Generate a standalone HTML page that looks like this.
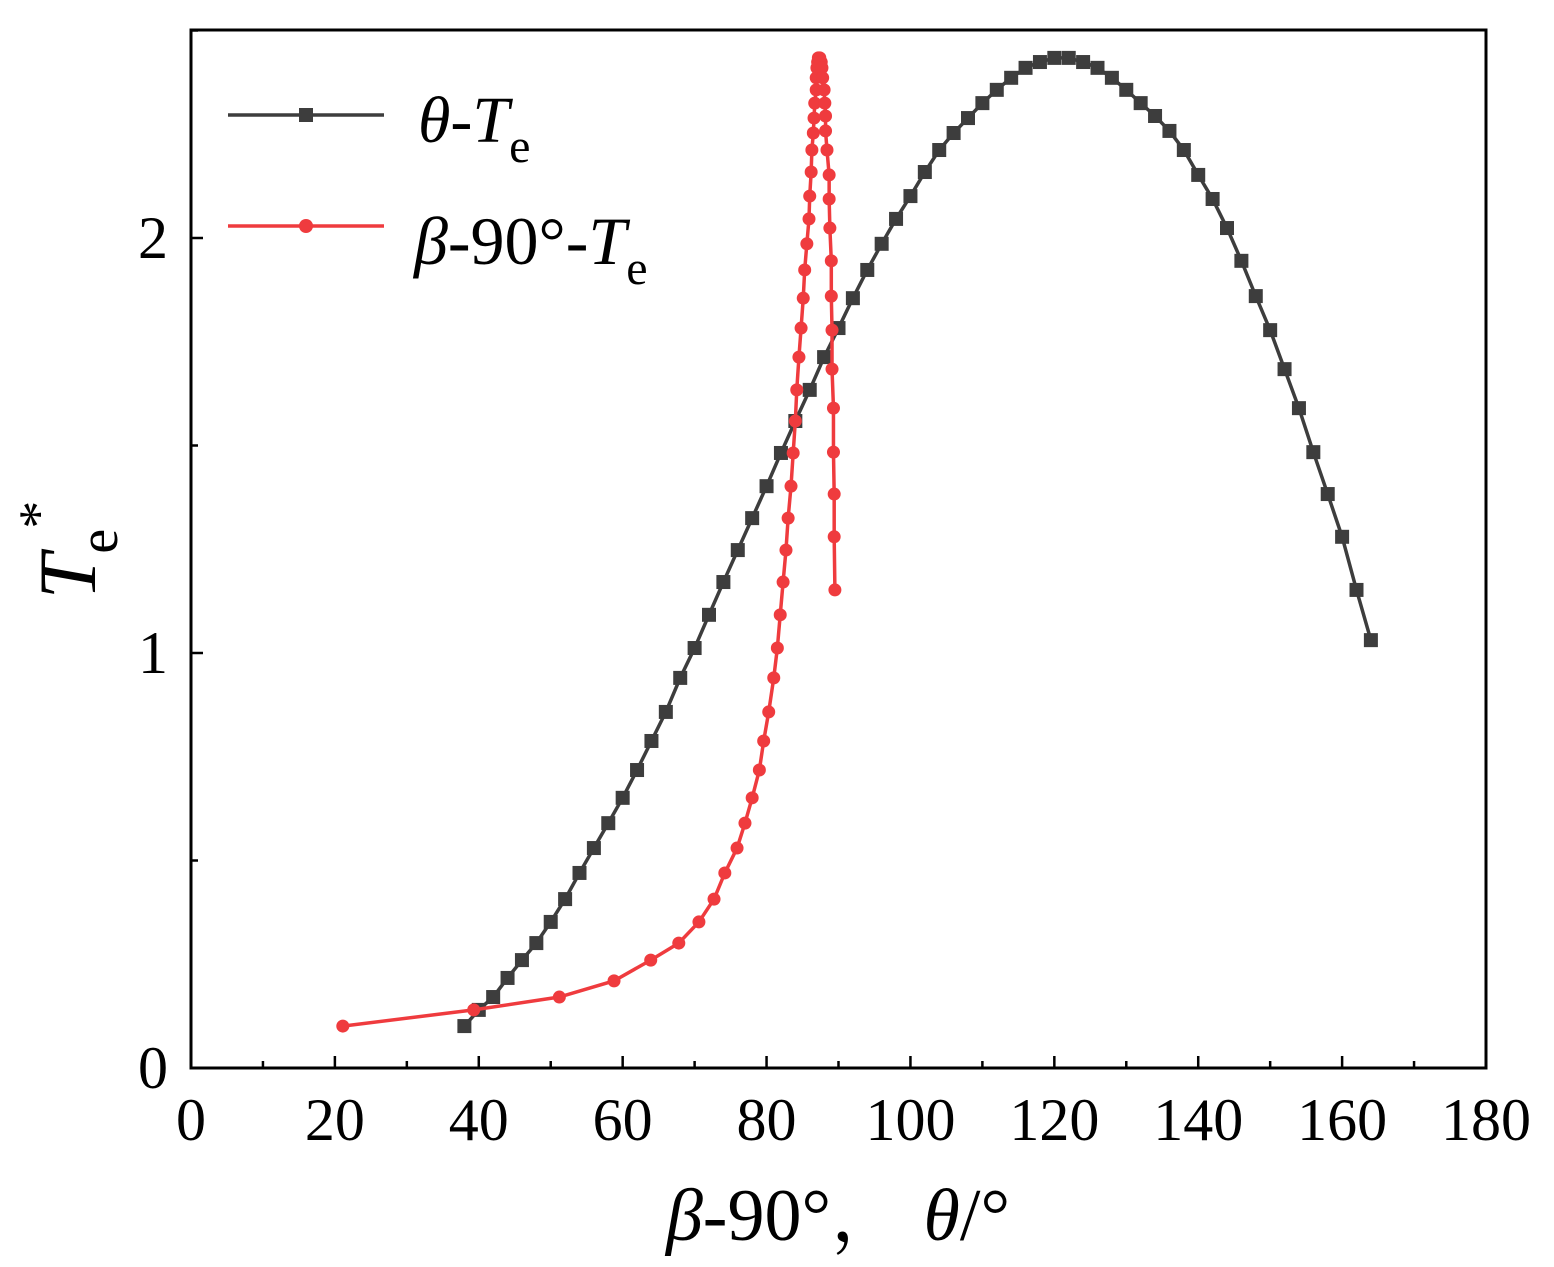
<!DOCTYPE html>
<html><head><meta charset="utf-8"><style>
html,body{margin:0;padding:0;background:#fff}
svg{display:block;font-family:"Liberation Serif",serif}
</style></head><body>
<svg id="chart" width="1554" height="1267" viewBox="0 0 1554 1267" xmlns="http://www.w3.org/2000/svg">
<rect x="191" y="30" width="1295" height="1038" fill="none" stroke="#000" stroke-width="3"/>
<g id="ticks"></g>
<g id="series"></g>
<g>
<line x1="228" y1="115" x2="384" y2="115" stroke="#3d3d3d" stroke-width="3.5"/>
<rect x="299" y="108" width="14" height="14" fill="#3d3d3d"/>
<text x="418" y="142" font-size="66" font-style="italic">θ-T<tspan font-size="48" font-style="normal" dy="20">e</tspan></text>
<line x1="228" y1="226" x2="384" y2="226" stroke="#ef3b3e" stroke-width="3.5"/>
<circle cx="306" cy="226" r="7" fill="#ef3b3e"/>
<text x="414" y="264" font-size="68"><tspan font-style="italic">β</tspan>-90°-<tspan font-style="italic">T</tspan><tspan font-size="48" dy="20">e</tspan></text>
</g>
<text x="838" y="1240" font-size="74" text-anchor="middle" xml:space="preserve"><tspan font-style="italic">β</tspan>-90°<tspan font-family="'Noto Serif CJK SC','Noto Sans CJK SC',serif">，</tspan> <tspan font-style="italic">θ</tspan>/°</text>
<text transform="translate(95,550) rotate(-90)" font-size="82" text-anchor="middle"><tspan font-style="italic">T</tspan><tspan font-size="56" dy="22">e</tspan><tspan font-size="56" dy="-60">*</tspan></text>
</svg>
<script>
const thetaX = [38,40,42,44,46,48,50,52,54,56,58,60,62,64,66,68,70,72,74,76,78,80,82,84,86,88,90,92,94,96,98,100,102,104,106,108,110,112,114,116,118,120,122,124,126,128,130,132,134,136,138,140,142,144,146,148,150,152,154,156,158,160,162,164];
const thetaT = [0.101,0.140,0.171,0.217,0.260,0.301,0.352,0.407,0.470,0.530,0.590,0.651,0.718,0.788,0.858,0.940,1.012,1.092,1.171,1.248,1.325,1.402,1.482,1.559,1.634,1.713,1.783,1.855,1.923,1.986,2.046,2.101,2.159,2.212,2.253,2.289,2.325,2.357,2.386,2.410,2.424,2.434,2.434,2.424,2.410,2.386,2.357,2.325,2.294,2.258,2.212,2.152,2.094,2.024,1.945,1.860,1.778,1.684,1.590,1.484,1.383,1.280,1.152,1.031];
const betaX = [21.1,39.3,51.2,58.8,63.9,67.8,70.6,72.7,74.2,75.9,77.0,78.0,79.0,79.6,80.3,81.0,81.5,81.9,82.3,82.7,83.0,83.4,83.7,84.0,84.2,84.5,84.8,85.1,85.3,85.6,85.9,86.0,86.2,86.3,86.5,86.6,86.7,86.9,86.9,87.0,87.1,87.2,87.4,87.6,87.7,87.8,88.0,88.1,88.2,88.2,88.4,88.7,88.7,88.8,89.0,89.0,89.1,89.1,89.3,89.3,89.4,89.4,89.5];
const betaT = [0.101,0.140,0.171,0.210,0.260,0.301,0.352,0.407,0.470,0.530,0.590,0.651,0.718,0.788,0.858,0.940,1.012,1.092,1.171,1.248,1.325,1.402,1.482,1.559,1.634,1.713,1.783,1.855,1.923,1.986,2.046,2.101,2.159,2.212,2.253,2.289,2.325,2.357,2.386,2.410,2.424,2.434,2.434,2.424,2.410,2.386,2.357,2.325,2.294,2.258,2.212,2.152,2.094,2.024,1.945,1.860,1.778,1.684,1.590,1.484,1.383,1.280,1.152];
const xTicks = [0,20,40,60,80,100,120,140,160,180];
const yTicks = [0,1,2];
const NS='http://www.w3.org/2000/svg';
const X0=191,X1=1486,Y0=1068;
function sx(v){return X0+v*(X1-X0)/180;}
function sy(v){return Y0-v*415;}
function mk(tag,attrs,parent){const e=document.createElementNS(NS,tag);for(const k in attrs)e.setAttribute(k,attrs[k]);parent.appendChild(e);return e;}
const tg=document.getElementById('ticks');
for(let v=0;v<=180;v+=10){
  const major=v%20===0;
  const l=mk('line',{x1:sx(v),x2:sx(v),y1:Y0,y2:Y0-(major?12:7),stroke:'#000','stroke-width':2.5},tg);
  
  
}
xTicks.forEach(v=>{
  const t=mk('text',{x:sx(v),y:1140,'font-size':60,'text-anchor':'middle'},tg);
  
  
  t.textContent=v;
});
for(let v=0;v<=2.5;v+=0.5){
  const major=Math.abs(v-Math.round(v))<1e-6;
  const l=mk('line',{x1:X0,x2:X0+(major?12:7),y1:sy(v),y2:sy(v),stroke:'#000','stroke-width':2.5},tg);
  
  
}
yTicks.forEach(v=>{
  const t=mk('text',{x:168,y:sy(v)+20,'font-size':60,'text-anchor':'end'},tg);
  
  
  t.textContent=v;
});
const sg=document.getElementById('series');
function series(xs,ys,color,shape,name){
  const g=mk('g',{},sg);
  
  
  const pts=xs.map((x,i)=>sx(x)+','+sy(ys[i])).join(' ');
  mk('polyline',{points:pts,fill:'none',stroke:color,'stroke-width':3.5},g);
  xs.forEach((x,i)=>{
    let m;
    if(shape==='square') m=mk('rect',{x:sx(x)-7,y:sy(ys[i])-7,width:14,height:14,fill:color},g);
    else m=mk('circle',{cx:sx(x),cy:sy(ys[i]),r:6.5,fill:color},g);
    
    
  });
}
series(thetaX,thetaT,'#3d3d3d','square','theta-series');
series(betaX,betaT,'#ef3b3e','circle','beta-series');
</script>
</body></html>
